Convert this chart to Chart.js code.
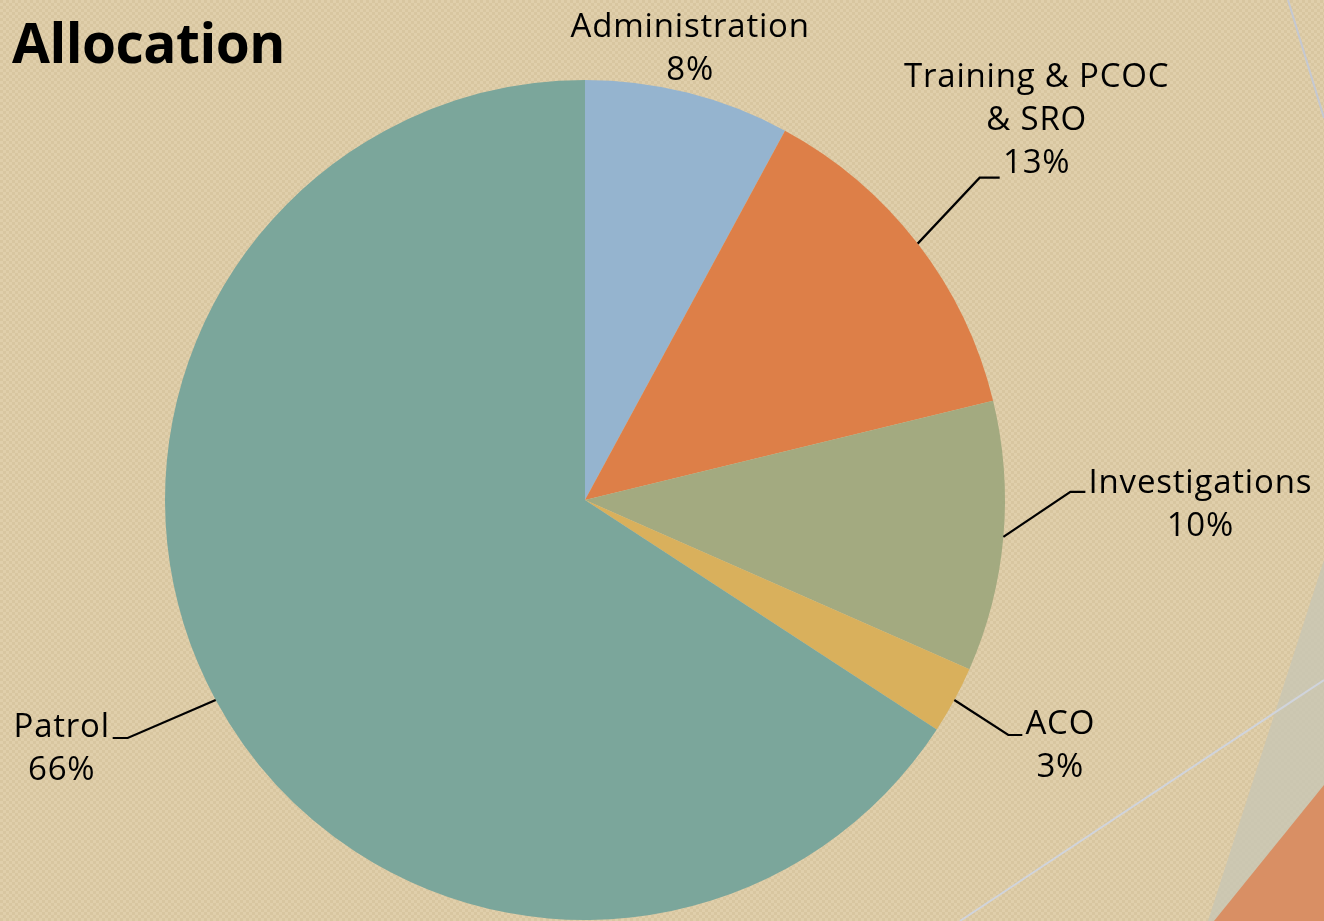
<!DOCTYPE html>
<html>
<head>
<meta charset="utf-8">
<script src="https://cdn.jsdelivr.net/npm/chart.js@4"></script>
<style>
  html, body { margin: 0; padding: 0; }
  body {
    width: 1324px; height: 921px; overflow: hidden; position: relative;
    background-color: #dccaa5;
    background-image: conic-gradient(#e0cfab 25%, #d8c6a0 0 50%, #e0cfab 0 75%, #d8c6a0 0);
    background-size: 6px 6px;
  }
  #deco { position: absolute; left: 0; top: 0; }
  #title {
    position: absolute; left: 12px; top: 4px;
    font-family: "Open Sans", sans-serif; font-weight: 700; font-size: 55px;
    color: #000; letter-spacing: -0.5px;
  }
  #wrap { position: absolute; left: 0; top: 0; width: 1324px; height: 921px; }
</style>
</head>
<body>
<svg id="deco" width="1324" height="921">
  <polygon points="1324,560 1324,921 1208,921" fill="#c8c6b4" opacity="0.8"/>
  <polygon points="1324,785 1324,921 1214,921" fill="#d98f64"/>
  <line x1="960" y1="921" x2="1324" y2="680" stroke="#d0d4dc" stroke-width="2"/>
  <line x1="1288" y1="0" x2="1324" y2="118" stroke="#c4c8d2" stroke-width="2"/>
</svg>
<div id="title">Allocation</div>
<div id="wrap"><canvas id="myChart"></canvas></div>
<script>
const categories = ["Administration", "Training & PCOC\n& SRO", "Investigations", "ACO", "Patrol"];
const shares = [7.9, 13.3, 10.4, 2.6, 65.8];
const colors = ["#95b4cf", "#dd7f48", "#a3aa80", "#d9b05c", "#7ba69b"];

// leader line per slice: [dx to elbow, dy to elbow, tail], then text anchor [dx, dy of first line]
const leaders = [null, [62, -66, 20], [67, -45, 15], [54, 35, 14], [-88, 38, -15]];
const textPos = [[2, -65], [37, -100], [115, -8], [38, -10], [-51, -10]];

const labelFont = '33px "Open Sans", sans-serif';
const lineHeight = 43;

const leaderLabels = {
  id: "leaderLabels",
  afterDatasetsDraw(chart) {
    const ctx = chart.ctx;
    const arcs = chart.getDatasetMeta(0).data;
    ctx.save();
    ctx.strokeStyle = "#000";
    ctx.lineWidth = 2.2;
    ctx.fillStyle = "#000";
    ctx.font = labelFont;
    ctx.letterSpacing = "0.8px";
    ctx.textAlign = "center";
    ctx.textBaseline = "middle";
    arcs.forEach((arc, i) => {
      const mid = (arc.startAngle + arc.endAngle) / 2;
      let x = arc.x + Math.cos(mid) * arc.outerRadius;
      let y = arc.y + Math.sin(mid) * arc.outerRadius;
      const l = leaders[i];
      if (l) {
        ctx.beginPath();
        ctx.moveTo(x, y);
        x += l[0]; y += l[1];
        ctx.lineTo(x, y);
        x += l[2];
        ctx.lineTo(x, y);
        ctx.stroke();
      }
      const lines = categories[i].split("\n").concat([Math.round(shares[i]) + "%"]);
      lines.forEach((t, k) => {
        ctx.fillText(t, x + textPos[i][0], y + textPos[i][1] + k * lineHeight);
      });
    });
    ctx.restore();
  }
};

new Chart(document.getElementById("myChart").getContext("2d"), {
  type: "pie",
  data: {
    labels: categories,
    datasets: [{
      data: shares,
      backgroundColor: colors,
      borderWidth: 0
    }]
  },
  options: {
    responsive: true,
    maintainAspectRatio: false,
    animation: false,
    layout: { padding: { left: 165, right: 319, top: 80, bottom: 1 } },
    plugins: {
      legend: { display: false },
      tooltip: { enabled: false }
    }
  },
  plugins: [leaderLabels]
});
</script>
</body>
</html>
